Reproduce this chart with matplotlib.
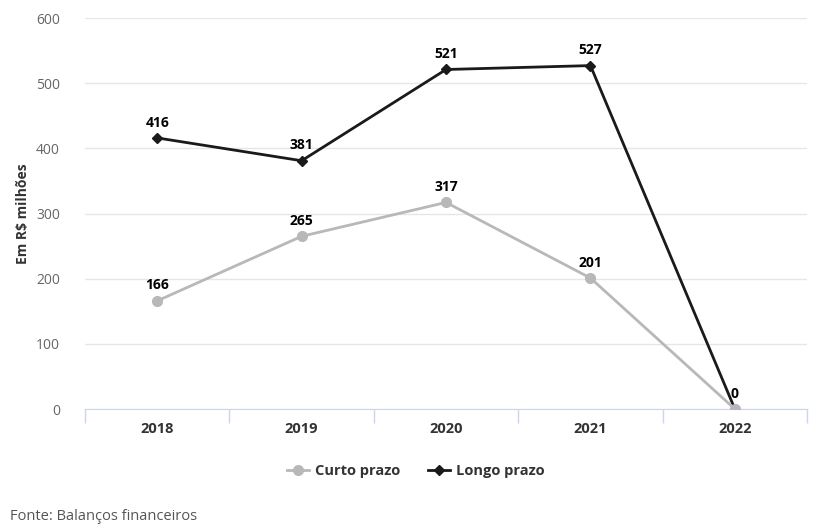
import matplotlib.pyplot as plt
import numpy as np

plt.rcParams["font.family"] = ["Open Sans", "DejaVu Sans"]

years = ["2018", "2019", "2020", "2021", "2022"]
curto_prazo = [166, 265, 317, 201, 0]
longo_prazo = [416, 381, 521, 527, 0]

figure = plt.figure(figsize=(8.28, 5.30), dpi=100)
axis = figure.add_axes([0.1027, 0.2283, 0.872, 0.7377])

x = np.arange(len(years))
axis.plot(x, curto_prazo, color="#b8b8b8", linewidth=2, marker="o",
          markersize=7, label="Curto prazo", zorder=3)
axis.plot(x, longo_prazo, color="#1a1a1a", linewidth=2, marker="D",
          markersize=5, label="Longo prazo", zorder=2)

for index, value in enumerate(curto_prazo):
    if value == 0:
        continue
    axis.annotate(f"{value}", (x[index], value), xytext=(0, 6),
                  textcoords="offset points", ha="center", va="bottom",
                  fontsize=10, fontweight="bold", color="#000000")
for index, value in enumerate(longo_prazo):
    axis.annotate(f"{value}", (x[index], value), xytext=(0, 6),
                  textcoords="offset points", ha="center", va="bottom",
                  fontsize=10, fontweight="bold", color="#000000")

axis.set_xlim(-0.5, len(years) - 0.5)
axis.set_ylim(0, 600)
axis.set_yticks(range(0, 601, 100))
axis.set_xticks(x)
axis.set_xticklabels(years, fontsize=10.5, fontweight="bold", color="#333333")
axis.set_xticks(np.arange(-0.5, len(years), 1.0), minor=True)
axis.tick_params(axis="x", which="major", length=0, pad=9)
axis.tick_params(axis="x", which="minor", length=10, color="#ccd6eb", width=1)
axis.tick_params(axis="y", length=0, pad=18, labelsize=10, labelcolor="#666666")
for label in axis.get_yticklabels():
    label.set_horizontalalignment("right")

axis.grid(axis="y", color="#e6e6e6", linewidth=1)
axis.set_axisbelow(True)
for side in ["top", "right", "left"]:
    axis.spines[side].set_visible(False)
axis.spines["bottom"].set_color("#ccd6eb")
axis.spines["bottom"].set_zorder(1)

axis.set_ylabel("Em R$ milhões", fontsize=10, fontweight="bold",
                color="#333333", labelpad=4)

legend = figure.legend(loc="center", bbox_to_anchor=(0.502, 0.111), ncol=2,
                       frameon=False, prop={"size": 10.5, "weight": "bold"},
                       handlelength=1.5, columnspacing=1.9, handletextpad=0.4)
for text in legend.get_texts():
    text.set_color("#333333")

figure.text(0.012, 0.012, "Fonte: Balanços financeiros", fontsize=10.5,
            color="#555555", ha="left", va="bottom")

figure.savefig("out.png", dpi=100)
